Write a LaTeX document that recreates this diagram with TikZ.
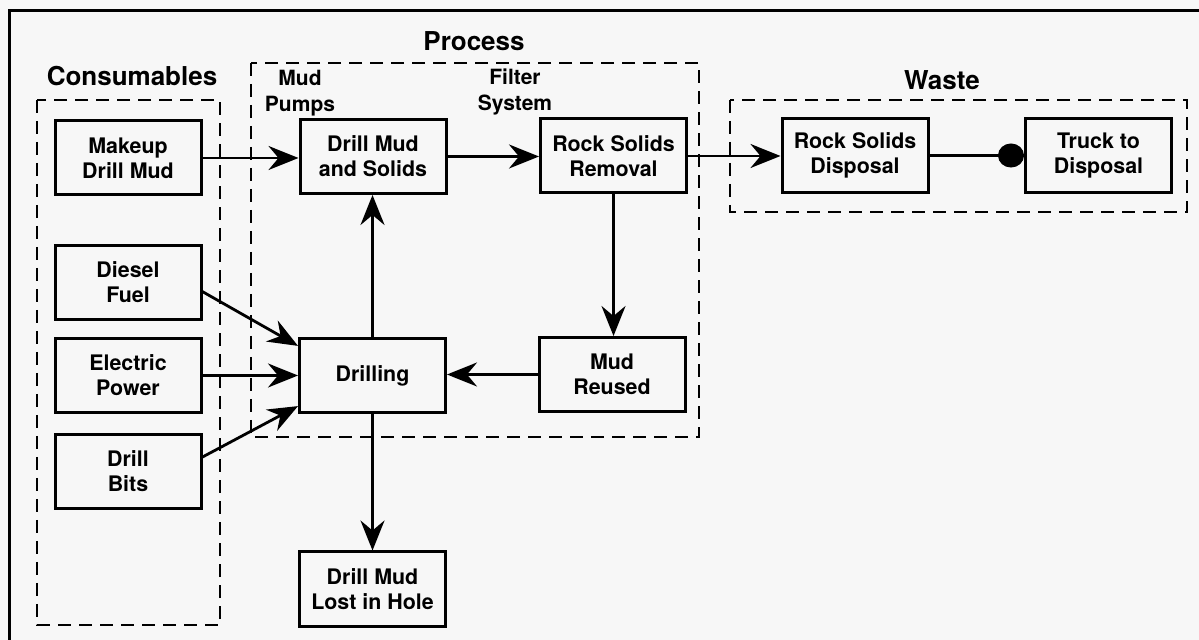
\documentclass[tikz,border=0pt]{standalone}
\usepackage{fontspec}
\setmainfont{TeX Gyre Heros}
\usetikzlibrary{arrows.meta,positioning}
\definecolor{paper}{RGB}{247,247,247}

\begin{document}
\begin{tikzpicture}[x=0.5pt,y=-0.5pt,
  blk/.style={draw,line width=1.5pt,minimum width=73pt,minimum height=37pt,inner sep=0pt,align=center,font=\fontsize{10.7}{12.5}\selectfont\bfseries},
  grp/.style={line width=1.4pt,dash pattern=on 6.5pt off 4pt},
  ttl/.style={font=\fontsize{13}{15}\selectfont\bfseries},
  lbl/.style={align=center,font=\fontsize{10.5}{13}\selectfont\bfseries},
  flow/.style={line width=1.4pt,-{Stealth[length=15pt,width=12pt,inset=5pt]}},
  dotflow/.style={line width=1.4pt,-{Circle[length=13pt,width=12pt]}}]
\fill[paper] (0,0) rectangle (1199,640);
\useasboundingbox (0,0) rectangle (1199,640);
\draw[line width=1.5pt] (9,640) -- (9,11) -- (1199,11);

\draw[grp] (37,100) rectangle (220,625);
\draw[grp] (251,63) rectangle (699,437);
\draw[grp] (730,100) rectangle (1187,212);

\node[ttl] (consT) at (132,76) {Consumables};
\node[ttl] (procT) at (474,41) {Process};
\node[ttl] (wasteT) at (942,80) {Waste};
\node[lbl] (pumps) at (300,93) {Mud\\Pumps};
\node[lbl] (filter) at (515,92) {Filter\\System};

\node[blk] (mkup) at (128,158) {Makeup\\Drill Mud};
\node[blk] (diesel) at (128,282.5) {Diesel\\Fuel};
\node[blk] (elec) at (128,375.5) {Electric\\Power};
\node[blk] (bits) at (128,471.5) {Drill\\Bits};
\node[blk] (dmud) at (373,156.5) {Drill Mud\\and Solids};
\node[blk] (rsr) at (613.5,156) {Rock Solids\\Removal};
\node[blk] (drill) at (372.5,376) {Drilling};
\node[blk] (reused) at (612,374.5) {Mud\\Reused};
\node[blk] (lost) at (372.5,589) {Drill Mud\\Lost in Hole};
\node[blk] (rsd) at (855,155.5) {Rock Solids\\Disposal};
\node[blk] (truck) at (1098.5,155.5) {Truck to\\Disposal};

\draw[flow] (mkup.east) -- (mkup.east -| dmud.west);
\draw[flow] (dmud.east) -- (dmud.east -| rsr.west);
\draw[flow] (rsr.east) -- (rsr.east -| rsd.west);
\draw[dotflow] (rsd.east) -- (rsd.east -| truck.west);
\draw[flow] (rsr.south) -- (rsr.south |- reused.north);
\draw[flow] (reused.west) -- (reused.west -| drill.east);
\draw[flow] (drill.north) -- (drill.north |- dmud.south);
\draw[flow] (drill.south) -- (lost.north);
\draw[flow] (diesel.-7) -- (drill.158);
\draw[flow] (elec.east) -- (elec.east -| drill.west);
\draw[flow] (bits.11) -- (drill.202);
\end{tikzpicture}
\end{document}
